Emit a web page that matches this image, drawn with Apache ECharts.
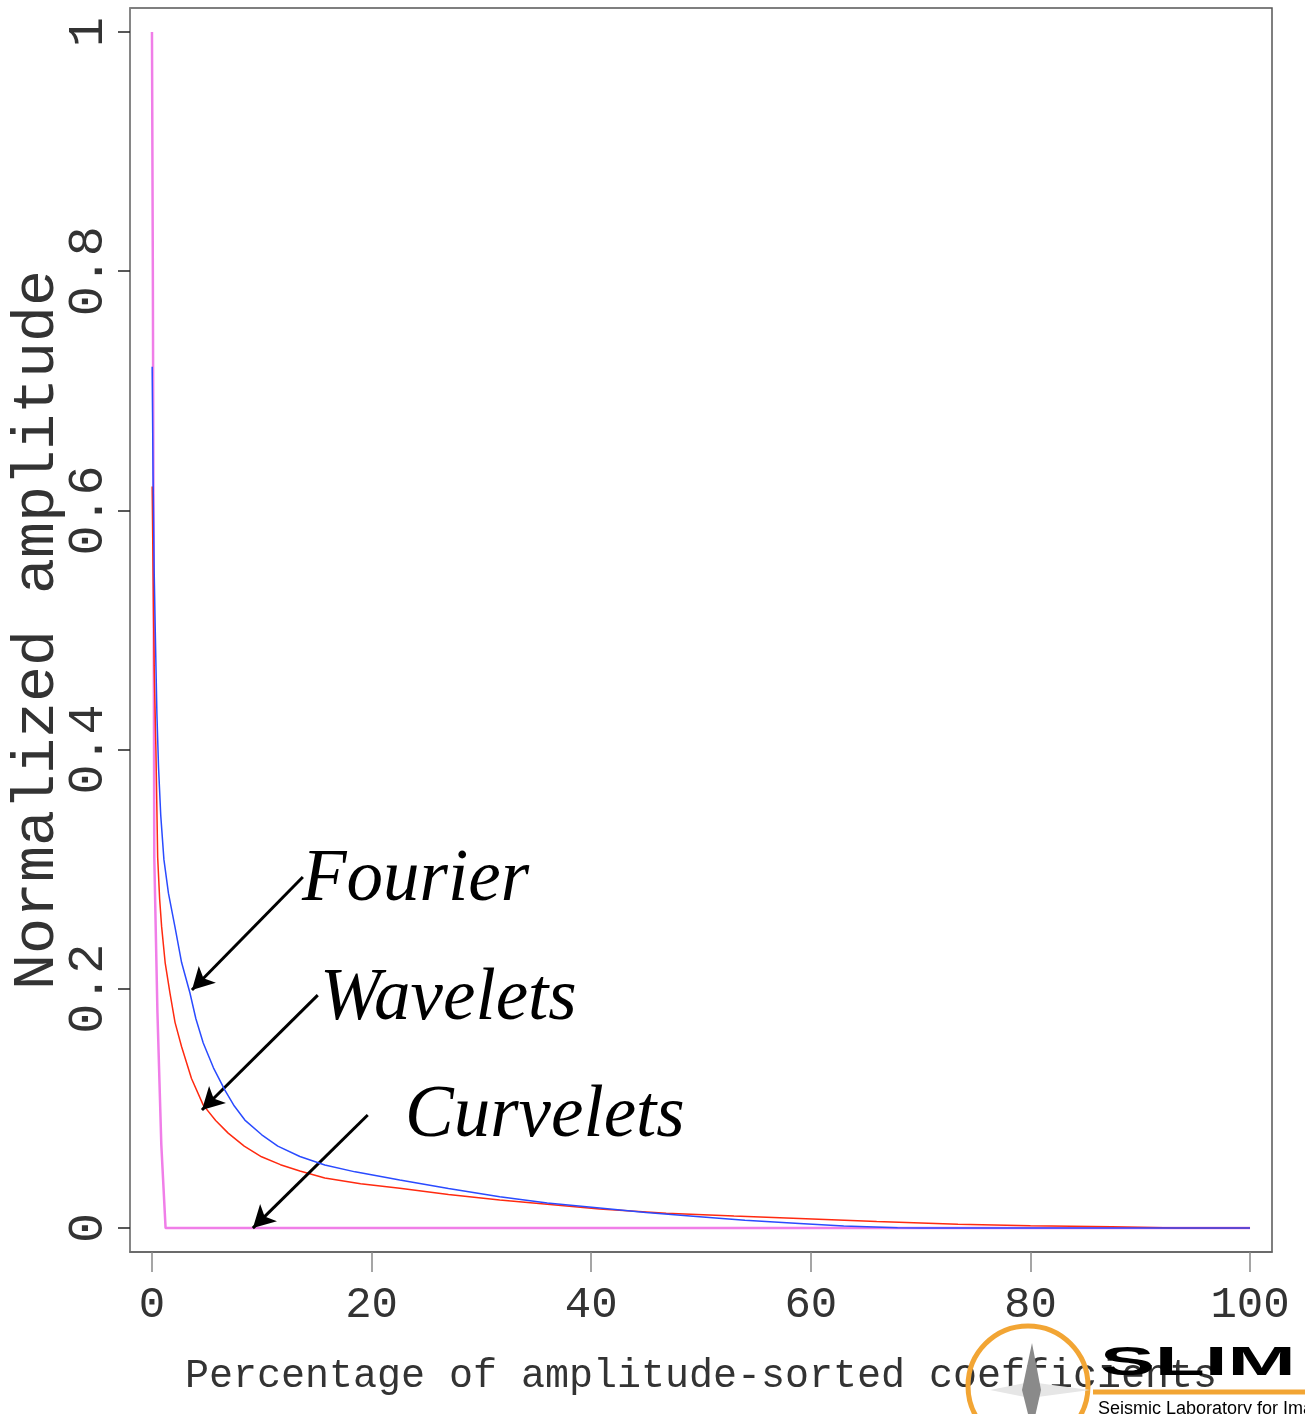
<!DOCTYPE html>
<html>
<head>
<meta charset="utf-8">
<script src="https://cdn.jsdelivr.net/npm/echarts@6/dist/echarts.min.js"></script>
<style>html,body{margin:0;padding:0;background:#fff}#c{width:1305px;height:1414px}</style>
</head>
<body>
<div id="c"></div>
<script>
// ---- data ----
const xTicks = [0, 20, 40, 60, 80, 100];
const yTicks = [0, 0.2, 0.4, 0.6, 0.8, 1];

const fourierX = [0.02, 0.1, 0.2, 0.3, 0.45, 0.6, 0.8, 1.09, 1.5, 2.09, 2.7, 3.46, 4.0, 4.67, 5.6, 6.64, 7.5, 8.46, 10, 11.46, 13.47, 15.74, 18.5, 22.57, 27, 31.67, 36, 40.76, 45, 49.86, 54, 58.96, 63, 67.9, 70, 100];
const fourierY = [0.72, 0.63, 0.55, 0.5, 0.43, 0.385, 0.345, 0.308, 0.28, 0.252, 0.222, 0.1965, 0.175, 0.1547, 0.134, 0.1154, 0.102, 0.0903, 0.078, 0.0685, 0.0598, 0.0527, 0.047, 0.0401, 0.033, 0.0262, 0.021, 0.0168, 0.013, 0.0094, 0.0065, 0.0039, 0.0017, 0.0003, 0, 0];

const waveletX = [0.02, 0.1, 0.2, 0.36, 0.52, 0.7, 0.88, 1.2, 1.64, 2.1, 2.7, 3.6, 4.67, 5.8, 6.94, 8.4, 9.98, 11.7, 13.47, 15.74, 19, 22.57, 27, 31.67, 36, 40.76, 46.83, 53, 58.96, 66, 73.4, 80, 87.4, 93.3, 100];
const waveletY = [0.62, 0.55, 0.47, 0.40, 0.31, 0.275, 0.252, 0.222, 0.1965, 0.172, 0.1516, 0.125, 0.1028, 0.09, 0.0794, 0.0685, 0.0596, 0.053, 0.0477, 0.0418, 0.037, 0.0332, 0.028, 0.0234, 0.02, 0.016, 0.0123, 0.01, 0.0081, 0.0055, 0.0033, 0.002, 0.0011, 0, 0];

const curveletX = [0, 0.08, 0.16, 0.21, 0.5, 0.85, 1.24, 100];
const curveletY = [1, 0.8, 0.525, 0.31, 0.18, 0.07, 0, 0];

const seriesNames = ['Fourier', 'Wavelets', 'Curvelets'];
const xTitle = 'Percentage of amplitude-sorted coefficients';
const yTitle = 'Normalized amplitude';

function zip(xs, ys) { return xs.map((x, i) => [x, ys[i]]); }

const chart = echarts.init(document.getElementById('c'), null, {renderer: 'canvas'});
const mono = 'Liberation Mono';
const times = 'Liberation Serif';
const txt = '#333';

chart.setOption({
  animation: false,
  backgroundColor: '#ffffff',
  grid: {left: 130, top: 8, right: 33, bottom: 162, show: true, borderColor: '#555', borderWidth: 1.5,
    containLabel: false, outerBoundsMode: 'none'},
  xAxis: {
    type: 'value', min: -2, max: 102,
    splitLine: {show: false},
    axisLine: {show: true, onZero: false, lineStyle: {color: '#666', width: 1.5}},
    axisTick: {show: true, customValues: xTicks, length: 20, lineStyle: {color: '#888', width: 1.5}},
    axisLabel: {customValues: xTicks, fontFamily: mono, fontSize: 44, color: txt, margin: 31},
    name: xTitle, nameLocation: 'middle', nameGap: 104, nameMoveOverlap: false,
    nameTextStyle: {fontFamily: mono, fontSize: 40, color: txt}
  },
  yAxis: {
    type: 'value', min: -0.02, max: 1.02,
    splitLine: {show: false},
    axisLine: {show: true, onZero: false, lineStyle: {color: '#888', width: 1.5}},
    axisTick: {show: true, customValues: yTicks, length: 12, lineStyle: {color: '#222', width: 1.5}},
    axisLabel: {customValues: yTicks, rotate: 90, fontFamily: mono, fontSize: 50, color: txt, margin: 16,
      formatter: v => String(Math.round(v * 10) / 10)},
    name: yTitle, nameLocation: 'middle', nameGap: 63, nameRotate: 90, nameMoveOverlap: false,
    nameTextStyle: {fontFamily: mono, fontSize: 60, color: txt}
  },
  series: [
    {
      name: seriesNames[2], type: 'line', data: zip(curveletX, curveletY), showSymbol: false,
      lineStyle: {color: '#f07ee8', width: 2.5}, z: 3
    },
    {
      name: seriesNames[1], type: 'line', data: zip(waveletX, waveletY), showSymbol: false,
      lineStyle: {color: '#ff2a10', width: 1.5}, z: 4
    },
    {
      name: seriesNames[0], type: 'line', data: zip(fourierX, fourierY), showSymbol: false,
      lineStyle: {color: '#2a4bff', width: 1.5}, z: 5,
      markLine: {
        silent: true, symbol: ['none', 'arrow'], symbolSize: [18, 22], animation: false,
        lineStyle: {color: '#000', width: 3, type: 'solid'},
        label: {show: false},
        emphasis: {disabled: true},
        data: [
          [{coord: [13.74, 0.2935]}, {coord: [3.64, 0.199]}],
          [{coord: [15.1, 0.1948]}, {coord: [4.55, 0.0987]}],
          [{coord: [19.65, 0.0945]}, {coord: [9.19, 0.0]}]
        ]
      }
    }
  ],
  graphic: [
    // SLIM logo (bottom right)
    {type: 'circle', z: 1, shape: {cx: 1028, cy: 1386, r: 60}, style: {fill: 'none', stroke: '#f2a534', lineWidth: 5}},
    {type: 'polygon', z: 1, shape: {points: [[990, 1390], [1030, 1382], [1090, 1390], [1030, 1398]]}, style: {fill: '#e6e6e6'}},
    {type: 'polygon', z: 1, shape: {points: [[1032, 1343], [1041, 1390], [1032, 1430], [1022, 1390]]}, style: {fill: '#8a8a8a'}},
    {type: 'line', z: 1, shape: {x1: 1093, y1: 1392, x2: 1305, y2: 1392}, style: {stroke: '#f2a534', lineWidth: 5}},
    {type: 'text', z: 1, x: 1100, y: 1364, scaleX: 2.05, style: {text: 'SLIM', fontFamily: 'Liberation Sans', fontWeight: 'bold', fontSize: 40, fill: '#000', align: 'left', verticalAlign: 'middle'}},
    {type: 'text', z: 1, x: 1098, y: 1409, style: {text: 'Seismic Laboratory for Imaging and Modeling', fontFamily: 'Liberation Sans', fontSize: 18, fill: '#000', align: 'left', verticalAlign: 'middle'}},
    // series annotations
    {type: 'text', z: 10, x: 302, y: 881, style: {text: seriesNames[0], fontFamily: times, fontStyle: 'italic', fontSize: 73, fill: '#000', align: 'left', verticalAlign: 'middle'}},
    {type: 'text', z: 10, x: 320, y: 1000, style: {text: seriesNames[1], fontFamily: times, fontStyle: 'italic', fontSize: 73, fill: '#000', align: 'left', verticalAlign: 'middle'}},
    {type: 'text', z: 10, x: 405, y: 1117, style: {text: seriesNames[2], fontFamily: times, fontStyle: 'italic', fontSize: 73, fill: '#000', align: 'left', verticalAlign: 'middle'}}
  ]
});
</script>
</body>
</html>
